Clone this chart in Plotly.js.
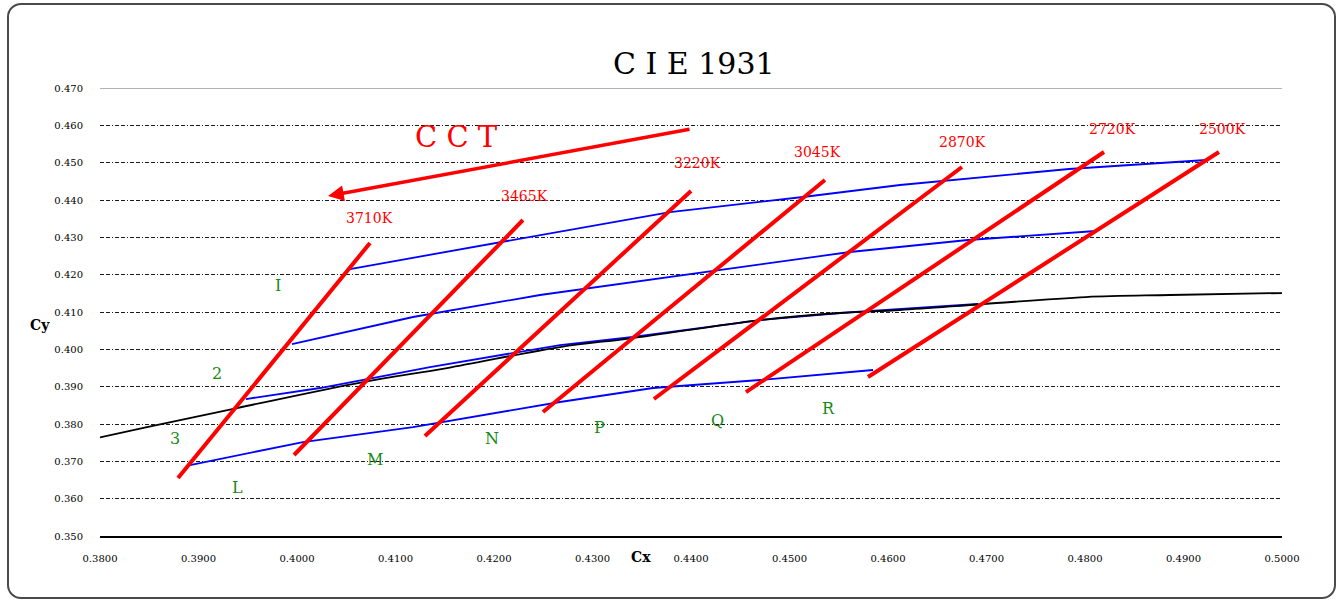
<!DOCTYPE html>
<html>
<head>
<meta charset="utf-8">
<script src="https://cdn.plot.ly/plotly-3.0.1.min.js"></script>
<style>
  html, body { margin: 0; padding: 0; background: #fff; }
  #wrap { position: relative; width: 1342px; height: 601px; }
  #chart { width: 1342px; height: 601px; }
  #frame { position: absolute; left: 7px; top: 3px; width: 1325px; height: 592px;
           border: 2px solid #4a4a4a; border-radius: 14px; pointer-events: none; }
</style>
</head>
<body>
<div id="wrap">
  <div id="chart"></div>
  <div id="frame"></div>
</div>
<script>
// ---- Data (CIE 1931 x,y) ----
// Isotherm (CCT) lines
const cctLabels = ["3710K", "3465K", "3220K", "3045K", "2870K", "2720K", "2500K"];
const cctX0 = [0.38792, 0.39970, 0.41299, 0.42497, 0.43624, 0.44558, 0.45797];
const cctY0 = [0.36553, 0.37169, 0.37678, 0.38321, 0.38669, 0.38856, 0.39258];
const cctX1 = [0.40741, 0.42294, 0.44000, 0.45360, 0.46751, 0.48193, 0.49360];
const cctY1 = [0.42848, 0.43464, 0.44241, 0.44536, 0.44884, 0.45286, 0.45286];
// CCT label anchor points
const cctLabelX = [0.40741, 0.42305, 0.44061, 0.45289, 0.46761, 0.48284, 0.49391];
const cctLabelY = [0.43518, 0.44107, 0.44991, 0.45286, 0.45553, 0.45902, 0.45902];

// Bin boundary lines (blue)
const row1X = [0.40538, 0.42467, 0.43787, 0.45137, 0.46122, 0.47838, 0.48863, 0.49233];
const row1Y = [0.42151, 0.43062, 0.43678, 0.44080, 0.44402, 0.44830, 0.45018, 0.45071];
const row2X = [0.39949, 0.41178, 0.42467, 0.44162, 0.45614, 0.46812, 0.48112];
const row2Y = [0.40142, 0.40866, 0.41455, 0.42071, 0.42607, 0.42928, 0.43169];
const row3X = [0.39482, 0.40234, 0.41350, 0.42670, 0.43411, 0.44701, 0.45513, 0.46122, 0.46914];
const row3Y = [0.38669, 0.38964, 0.39526, 0.40115, 0.40330, 0.40785, 0.40973, 0.41080, 0.41214];
const row4X = [0.38914, 0.40061, 0.41178, 0.42670, 0.43614, 0.44701, 0.45848];
const row4Y = [0.36901, 0.37517, 0.37919, 0.38589, 0.38964, 0.39178, 0.39446];
// Bin side segments (blue), from upper to lower end
const sideX0 = [0.40525, 0.43769, 0.44247, 0.46565, 0.44689, 0.49233];
const sideY0 = [0.42151, 0.43678, 0.42102, 0.44512, 0.40782, 0.45071];
const sideX1 = [0.39447, 0.42933, 0.42596, 0.45606, 0.43788, 0.48109];
const sideY1 = [0.38669, 0.41630, 0.38535, 0.42605, 0.38995, 0.43169];

// Planckian locus (black)
const bbX = [0.38000, 0.38477, 0.39391, 0.40670, 0.41523, 0.42670, 0.43411, 0.44701, 0.45513, 0.46122, 0.46975, 0.48010, 0.48863, 0.50000];
const bbY = [0.37640, 0.37919, 0.38428, 0.39124, 0.39499, 0.40062, 0.40303, 0.40785, 0.40973, 0.41053, 0.41214, 0.41401, 0.41455, 0.41508];

// Bin names
const binNames = ["I", "2", "3", "L", "M", "N", "P", "Q", "R"];
const binX = [0.39807, 0.39188, 0.38761, 0.39391, 0.40792, 0.41980, 0.43076, 0.44264, 0.45391];
const binY = [0.41723, 0.39365, 0.37624, 0.36311, 0.37062, 0.37624, 0.37919, 0.38106, 0.38428];

// CCT arrow: [tailX, tailY, headX, headY]
const cctArrow = [0.44000, 0.45902, 0.40315, 0.44107];
const cctTextPos = [0.41624, 0.45687];

// Ticks
const xTickVals = [0.38, 0.39, 0.40, 0.41, 0.42, 0.43, 0.44, 0.45, 0.46, 0.47, 0.48, 0.49, 0.50];
const xTickText = ["0.3800", "0.3900", "0.4000", "0.4100", "0.4200", "0.4300", "0.4400", "0.4500", "0.4600", "0.4700", "0.4800", "0.4900", "0.5000"];
const yTickVals = [0.35, 0.36, 0.37, 0.38, 0.39, 0.40, 0.41, 0.42, 0.43, 0.44, 0.45, 0.46, 0.47];
const yTickText = ["0.350", "0.360", "0.370", "0.380", "0.390", "0.400", "0.410", "0.420", "0.430", "0.440", "0.450", "0.460", "0.470"];

// ---- Traces ----
const SERIF = "DejaVu Serif, Liberation Serif, serif";
const traces = [];
const blueLine = { color: "#0000ff", width: 1.8 };
[[row1X, row1Y], [row2X, row2Y], [row3X, row3Y], [row4X, row4Y]].forEach(function (r) {
  traces.push({ x: r[0], y: r[1], mode: "lines", line: blueLine, hoverinfo: "skip", showlegend: false });
});
for (let i = 0; i < sideX0.length; i++) {
  traces.push({ x: [sideX0[i], sideX1[i]], y: [sideY0[i], sideY1[i]], mode: "lines", line: blueLine, hoverinfo: "skip", showlegend: false });
}
traces.push({ x: bbX, y: bbY, mode: "lines", line: { color: "#000000", width: 1.8, shape: "spline" }, hoverinfo: "skip", showlegend: false });
for (let i = 0; i < cctLabels.length; i++) {
  traces.push({ x: [cctX0[i], cctX1[i]], y: [cctY0[i], cctY1[i]], mode: "lines", name: cctLabels[i],
    line: { color: "#ff0000", width: 4 }, showlegend: false });
}

// ---- Annotations ----
const annotations = [];
for (let i = 0; i < cctLabels.length; i++) {
  annotations.push({ x: cctLabelX[i], y: cctLabelY[i], xref: "x", yref: "y", text: cctLabels[i], showarrow: false,
    font: { family: SERIF, size: 14, color: "#ff0000" } });
}
for (let i = 0; i < binNames.length; i++) {
  annotations.push({ x: binX[i], y: binY[i], xref: "x", yref: "y", text: binNames[i], showarrow: false,
    font: { family: SERIF, size: 16, color: "#178a17" } });
}
annotations.push({ x: cctArrow[2], y: cctArrow[3], ax: cctArrow[0], ay: cctArrow[1], axref: "x", ayref: "y",
  xref: "x", yref: "y", text: "", showarrow: true, arrowhead: 2, arrowsize: 0.9, arrowwidth: 3.5, arrowcolor: "#ff0000" });
annotations.push({ x: cctTextPos[0], y: cctTextPos[1], xref: "x", yref: "y", text: "C C T", showarrow: false,
  font: { family: SERIF, size: 29, color: "#ff0000" } });
annotations.push({ x: -0.061, y: 0.471, xref: "paper", yref: "paper", text: "<b>Cy</b>", showarrow: false,
  font: { family: SERIF, size: 14, color: "#000" } });
annotations.push({ x: 0.4577, y: -0.069, xref: "paper", yref: "paper", text: "<b>Cx</b>", showarrow: false,
  font: { family: SERIF, size: 14, color: "#000" } });

const layout = {
  width: 1342, height: 601,
  margin: { l: 100, r: 60, t: 88, b: 65 },
  paper_bgcolor: "#ffffff", plot_bgcolor: "#ffffff",
  title: { text: "C I E 1931", x: 0.517, xanchor: "center", y: 0.895, yanchor: "middle",
    font: { family: SERIF, size: 30, color: "#000" } },
  showlegend: false,
  xaxis: {
    range: [0.38, 0.50], tickvals: xTickVals, ticktext: xTickText, showgrid: false, zeroline: false,
    showline: true, linecolor: "#000", linewidth: 2, ticks: "", ticklabelstandoff: 12,
    tickfont: { family: SERIF, size: 10, color: "#000" }, fixedrange: true
  },
  yaxis: {
    range: [0.35, 0.47], tickvals: yTickVals, ticktext: yTickText, showgrid: true, gridcolor: "#1a1a1a",
    gridwidth: 1, griddash: "4px,2px,4px,2px,1px,2px", zeroline: false, showline: false, ticks: "",
    ticklabelstandoff: 16, tickfont: { family: SERIF, size: 10, color: "#000" }, fixedrange: true
  },
  shapes: [
    { type: "line", xref: "paper", yref: "y", x0: 0, x1: 1, y0: 0.47, y1: 0.47, line: { color: "#9a9a9a", width: 1.5 }, layer: "above" }
  ],
  annotations: annotations
};

Plotly.newPlot("chart", traces, layout, { displayModeBar: false, staticPlot: true });
</script>
</body>
</html>
